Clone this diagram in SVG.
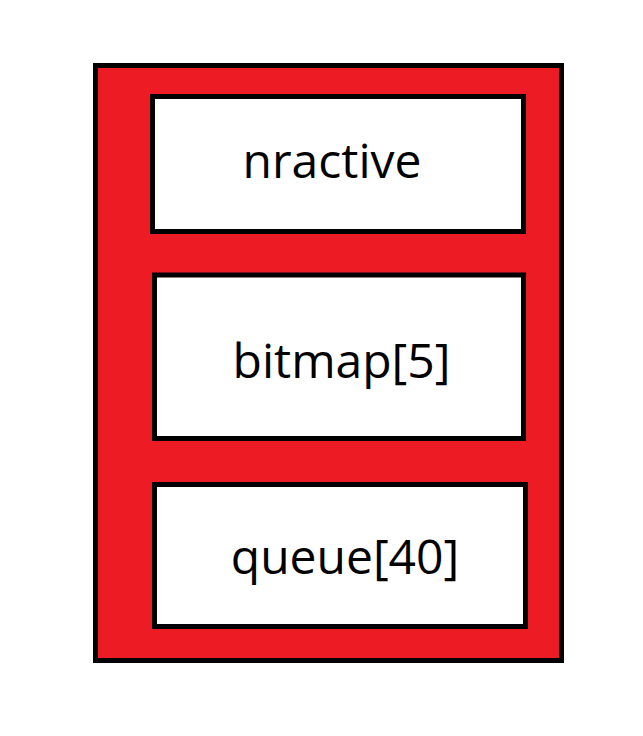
<svg xmlns="http://www.w3.org/2000/svg" width="643" height="736" viewBox="0 0 643 736">
<style>
.box{fill:#fff;stroke:#000;stroke-width:5}
.lbl{font-family:"Open Sans","Noto Sans",sans-serif;font-size:48px;fill:#000;text-anchor:middle}
</style>
<rect width="643" height="736" fill="#fff"/>
<g id="container">
<rect x="95.5" y="65.5" width="466" height="595" fill="#ed1c24" stroke="#000" stroke-width="5"/>
</g>
<g id="nractive">
<rect class="box" x="152.5" y="96.5" width="371" height="135"/>
<text class="lbl" x="332" y="178">nractive</text>
</g>
<g id="bitmap">
<rect class="box" x="154.5" y="275" width="369" height="163.5"/>
<text class="lbl" x="341.5" y="378">bitmap[5]</text>
</g>
<g id="queue">
<rect class="box" x="154.5" y="484.5" width="371" height="142"/>
<text class="lbl" x="345" y="574">queue[40]</text>
</g>
<g id="connectors"></g>
</svg>
